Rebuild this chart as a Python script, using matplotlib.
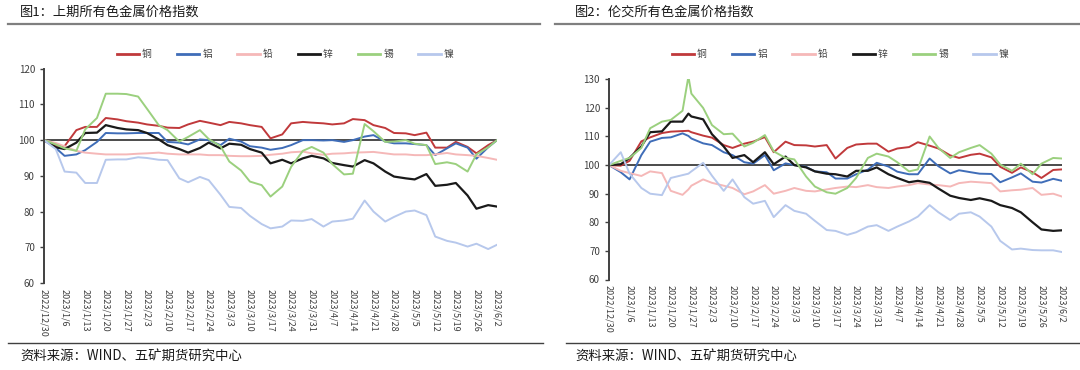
import datetime as dt
import matplotlib
matplotlib.use("Agg")
import matplotlib.pyplot as plt
from matplotlib.lines import Line2D

plt.rcParams['font.family'] = ['Noto Sans CJK SC', 'DejaVu Sans']

# ---- data (index, base 2022/12/30 = 100) ----
metals = ["铜", "铝", "铅", "锌", "锡", "镍"]
colors = ["#C0393B", "#3F6DB8", "#F5B8B8", "#1A1A1A", "#9BD07E", "#B7C8EC"]
widths = [1.4, 1.4, 1.4, 1.6, 1.4, 1.4]

shfe_dates = ["2022-12-30", "2023-01-03", "2023-01-06", "2023-01-10", "2023-01-13", "2023-01-17",
              "2023-01-20", "2023-01-24", "2023-01-27", "2023-01-31", "2023-02-03", "2023-02-07",
              "2023-02-10", "2023-02-14", "2023-02-17", "2023-02-21", "2023-02-24", "2023-02-28",
              "2023-03-03", "2023-03-07", "2023-03-10", "2023-03-14", "2023-03-17", "2023-03-21",
              "2023-03-24", "2023-03-28", "2023-03-31", "2023-04-04", "2023-04-07", "2023-04-11",
              "2023-04-14", "2023-04-18", "2023-04-21", "2023-04-25", "2023-04-28", "2023-05-02",
              "2023-05-05", "2023-05-09", "2023-05-12", "2023-05-16", "2023-05-19", "2023-05-23",
              "2023-05-26", "2023-05-30", "2023-06-02"]

shfe_cu = [100, 98.4, 98.3, 102.8, 103.7, 103.7, 106.2, 105.8, 105.3, 104.9, 104.4, 104.0, 103.5,
           103.4, 104.4, 105.4, 104.9, 104.2, 105.1, 104.7, 104.2, 103.7, 100.5, 101.6, 104.7, 105.1,
           104.9, 104.7, 104.4, 104.7, 105.9, 105.6, 104.2, 103.4, 102.0, 101.9, 101.4, 102.1, 97.9,
           97.9, 99.5, 98.1, 96.3, 98.6, 100.0]
shfe_al = [100, 97.8, 95.6, 96.0, 97.2, 99.5, 102.0, 101.9, 101.9, 102.0, 102.0, 102.0, 99.5, 99.3,
           98.8, 100.2, 100.0, 98.6, 100.4, 99.6, 98.3, 97.9, 97.3, 97.8, 98.6, 100.0, 100.0, 99.9,
           100.0, 99.5, 100.0, 101.0, 101.4, 99.6, 99.1, 99.1, 98.9, 98.6, 95.8, 97.7, 99.1, 97.9,
           94.8, 98.0, 100.0]
shfe_pb = [100, 99.2, 98.3, 97.0, 96.5, 96.2, 96.0, 96.0, 96.0, 96.2, 96.3, 96.5, 96.2, 96.0, 96.0,
           96.0, 95.8, 95.8, 95.6, 95.5, 95.5, 95.6, 95.9, 96.2, 96.6, 96.8, 96.3, 95.9, 96.2, 96.3,
           96.5, 96.6, 96.7, 96.3, 96.0, 96.0, 95.8, 95.8, 96.0, 96.4, 96.0, 95.8, 95.6, 95.0, 94.5]
shfe_zn = [100, 98.0, 97.5, 99.3, 102.0, 102.1, 104.2, 103.4, 103.0, 102.8, 102.0, 100.2, 98.6, 97.5,
           96.5, 97.8, 99.3, 97.7, 99.0, 98.7, 97.5, 96.5, 93.5, 94.5, 93.5, 94.9, 95.6, 94.9, 93.6,
           93.0, 92.6, 94.4, 93.5, 91.2, 89.8, 89.3, 89.0, 90.5, 87.2, 87.5, 88.0, 84.5, 80.8, 81.8,
           81.4]
shfe_sn = [100, 98.8, 97.7, 97.0, 103.0, 106.2, 113.0, 113.0, 112.9, 112.2, 108.8, 104.2, 102.8,
           99.6, 100.9, 102.8, 100.3, 98.3, 94.0, 91.5, 88.4, 87.4, 84.2, 87.0, 92.5, 97.0, 98.1,
           96.5, 93.3, 90.4, 90.6, 104.5, 102.5, 99.5, 99.6, 100.0, 99.0, 98.6, 93.3, 93.8, 93.3,
           91.2, 96.0, 98.0, 100.0]
shfe_ni = [100, 97.5, 91.2, 90.9, 88.0, 88.0, 94.5, 94.6, 94.6, 95.2, 95.0, 94.5, 94.4, 89.3, 88.2,
           89.7, 88.8, 84.7, 81.3, 81.0, 78.8, 76.5, 75.3, 75.8, 77.5, 77.4, 77.9, 75.8, 77.2, 77.5,
           78.0, 83.1, 80.0, 77.2, 78.5, 80.0, 80.3, 79.0, 73.0, 71.8, 71.3, 70.2, 71.0, 69.5, 70.7]

lme_dates = ["2022-12-30", "2023-01-03", "2023-01-06", "2023-01-10", "2023-01-13", "2023-01-17",
             "2023-01-20", "2023-01-24", "2023-01-26", "2023-01-27", "2023-01-31", "2023-02-03",
             "2023-02-07", "2023-02-10", "2023-02-14", "2023-02-17", "2023-02-21", "2023-02-24",
             "2023-02-28", "2023-03-03", "2023-03-07", "2023-03-10", "2023-03-14", "2023-03-17",
             "2023-03-21", "2023-03-24", "2023-03-28", "2023-03-31", "2023-04-04", "2023-04-07",
             "2023-04-11", "2023-04-14", "2023-04-18", "2023-04-21", "2023-04-25", "2023-04-28",
             "2023-05-02", "2023-05-05", "2023-05-09", "2023-05-12", "2023-05-16", "2023-05-19",
             "2023-05-23", "2023-05-26", "2023-05-30", "2023-06-02"]

lme_cu = [100, 99.8, 101.5, 108.3, 109.7, 111.2, 111.7, 111.9, 112.0, 111.5, 110.3, 109.6, 107.0,
          106.0, 107.5, 108.2, 109.8, 104.5, 108.2, 107.0, 106.9, 106.5, 107.0, 102.3, 106.0, 107.2,
          107.5, 107.5, 104.7, 105.8, 106.3, 108.0, 106.8, 105.8, 103.4, 102.5, 103.6, 104.0, 102.7,
          99.4, 97.3, 99.2, 97.5, 95.5, 98.3, 98.5]
lme_al = [100, 97.5, 95.0, 103.5, 108.2, 109.5, 109.7, 111.1, 110.2, 109.3, 107.6, 107.0, 104.5,
          103.5, 101.0, 100.5, 103.5, 98.2, 100.6, 100.0, 99.4, 97.8, 97.5, 95.3, 95.3, 96.8, 98.4,
          100.8, 99.5, 97.7, 96.8, 96.8, 102.3, 99.6, 97.1, 98.2, 97.5, 97.0, 96.9, 94.0, 95.7, 97.1,
          94.2, 93.9, 95.2, 94.5]
lme_pb = [100, 98.0, 97.2, 96.2, 97.8, 97.2, 91.0, 89.6, 91.5, 92.8, 95.0, 93.8, 92.8, 92.0, 89.8,
          90.8, 93.0, 90.0, 91.0, 92.0, 91.0, 90.8, 91.5, 92.0, 92.5, 92.3, 93.0, 92.3, 92.0, 92.5,
          93.0, 93.7, 93.2, 93.0, 92.5, 93.7, 94.2, 94.0, 93.7, 90.8, 91.2, 91.4, 92.0, 89.6, 90.0,
          89.0]
lme_zn = [100, 100.3, 102.5, 106.5, 111.5, 111.8, 115.2, 115.2, 118.0, 117.0, 116.0, 110.8, 106.5,
          102.5, 103.5, 101.0, 104.5, 100.3, 103.0, 100.0, 99.2, 97.8, 97.0, 96.8, 96.0, 98.0, 98.0,
          99.2, 96.8, 95.5, 94.0, 94.5, 93.8, 91.8, 89.3, 88.5, 87.8, 88.4, 87.5, 86.0, 85.0, 83.5,
          80.0, 77.5, 77.0, 77.2]
lme_sn = [100, 101.5, 102.5, 106.0, 112.9, 115.2, 115.8, 119.0, 131.0, 125.0, 120.0, 114.0, 110.8,
          111.0, 106.5, 107.8, 110.5, 104.8, 102.5, 102.0, 96.0, 92.5, 90.5, 90.0, 92.0, 95.5, 102.5,
          104.0, 103.0, 101.0, 97.8, 98.5, 110.0, 106.0, 102.5, 104.5, 106.0, 107.0, 104.0, 100.2,
          98.0, 100.5, 96.8, 100.5, 102.5, 102.3]
lme_ni = [100, 104.5, 97.0, 92.0, 90.0, 89.5, 95.5, 96.5, 97.0, 97.8, 100.8, 96.3, 91.0, 95.0, 88.8,
          86.5, 87.5, 81.8, 86.0, 84.0, 83.0, 80.5, 77.3, 77.0, 75.6, 76.5, 78.5, 79.0, 77.0, 78.5,
          80.3, 82.0, 86.0, 83.5, 80.8, 83.0, 83.5, 82.0, 78.5, 73.5, 70.5, 70.8, 70.3, 70.2, 70.2,
          69.6]

tick_start = dt.date(2022, 12, 30)
n_ticks = 23  # weekly labels up to 2023/6/2


def to_dates(strs):
    return [dt.datetime.strptime(s, "%Y-%m-%d") for s in strs]


def draw_panel(ax, dates, series, ylim, yticks):
    x = to_dates(dates)
    for vals, c, lw in zip(series, colors, widths):
        ax.plot(x, vals, color=c, linewidth=lw, solid_joinstyle='round')
    # reference line at 100
    ax.axhline(100, color='#1A1A1A', linewidth=1.1, zorder=1)

    ticks = [tick_start + dt.timedelta(days=7 * i) for i in range(n_ticks)]
    ax.set_xlim(ticks[0], ticks[-1])
    ax.set_xticks(ticks)
    ax.set_xticklabels([f"{d.year}/{d.month}/{d.day}" for d in ticks],
                       rotation=-90, fontsize=6.5, color='#404040')
    ax.set_ylim(*ylim)
    ax.set_yticks(yticks)
    ax.tick_params(axis='y', labelsize=7, colors='#404040', length=3, width=1, direction='out')
    ax.tick_params(axis='x', length=0, pad=4)
    for s in ['top', 'right', 'bottom']:
        ax.spines[s].set_visible(False)
    ax.spines['left'].set_color('#404040')
    ax.spines['left'].set_linewidth(1.4)


fig = plt.figure(figsize=(10.8, 3.7), dpi=100)
W, H = 1080, 370


def px_axes(x0, x1, y_top, y_bot):
    return fig.add_axes([x0 / W, 1 - y_bot / H, (x1 - x0) / W, (y_bot - y_top) / H])


ax1 = px_axes(44, 497, 68.7, 283)
draw_panel(ax1, shfe_dates, [shfe_cu, shfe_al, shfe_pb, shfe_zn, shfe_sn, shfe_ni],
           (60, 120), range(60, 121, 10))

ax2 = px_axes(609, 1062, 79.3, 279.5)
draw_panel(ax2, lme_dates, [lme_cu, lme_al, lme_pb, lme_zn, lme_sn, lme_ni],
           (60, 130), range(60, 131, 10))

handles = [Line2D([], [], color=c, linewidth=2) for c in colors]
for cx in (285 / W, 840 / W):
    fig.legend(handles, metals, loc='center', bbox_to_anchor=(cx, 1 - 54 / H), ncol=6,
               frameon=False, fontsize=7, handlelength=2.3, handletextpad=0.3,
               columnspacing=2.6, labelcolor='#404040')

# titles, rules and source notes
fig.text(20 / W, 1 - 12 / H, "图1：上期所有色金属价格指数", fontsize=9.5, va='center', color='#1A1A1A')
fig.text(575 / W, 1 - 12 / H, "图2：伦交所有色金属价格指数", fontsize=9.5, va='center', color='#1A1A1A')
fig.add_artist(Line2D([8 / W, 540 / W], [1 - 24 / H] * 2, color='#7F7F7F', linewidth=1.6))
fig.add_artist(Line2D([555 / W, 1080 / W], [1 - 24 / H] * 2, color='#7F7F7F', linewidth=1.6))
fig.add_artist(Line2D([8 / W, 543 / W], [1 - 343 / H] * 2, color='#404040', linewidth=1.0))
fig.add_artist(Line2D([566 / W, 1080 / W], [1 - 343 / H] * 2, color='#404040', linewidth=1.0))
src = "资料来源：WIND、五矿期货研究中心"
fig.text(20 / W, 1 - 356 / H, src, fontsize=9.6, va='center', color='#1A1A1A')
fig.text(575 / W, 1 - 356 / H, src, fontsize=9.6, va='center', color='#1A1A1A')

fig.savefig("out.png", dpi=100)
